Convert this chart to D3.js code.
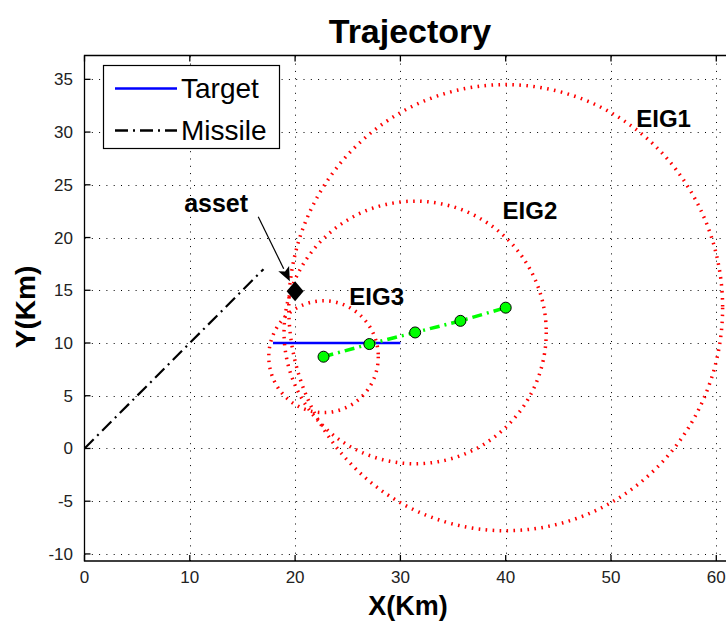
<!DOCTYPE html>
<html><head><meta charset="utf-8">
<script src="https://cdn.jsdelivr.net/npm/d3@7/dist/d3.min.js"></script>
<style>
html,body{margin:0;padding:0;background:#fff;}
svg{display:block;font-family:"Liberation Sans",Arial,Helvetica,sans-serif;}
</style></head>
<body>
<svg id="chart" width="726" height="626"></svg>
<script>
// ---- data ----
const xTicks = [0, 10, 20, 30, 40, 50, 60];
const yTicks = [-10, -5, 0, 5, 10, 15, 20, 25, 30, 35];
const targetX = [17.9, 30.0];
const targetY = [10.0, 10.0];
const missileX = [0, 17.0];
const missileY = [0, 17.0];
const trackX = [22.7, 27.05, 31.4, 35.7, 40.0];
const trackY = [8.7, 9.9, 11.0, 12.1, 13.35];
const eigNames = ["EIG1", "EIG2", "EIG3"];
const eigCx = [40.0, 31.4, 22.7];
const eigCy = [13.35, 11.0, 8.7];
const eigRx = [20.6, 12.45, 5.2];
const eigRy = [21.15, 12.45, 5.3];
const eigLabelX = [52.4, 39.7, 25.15];
const eigLabelY = [30.45, 21.73, 13.56];
const assetX = 20.0, assetY = 14.9;
const assetLabel = {text: "asset", x: 12.5, y: 22.4};
const arrowFrom = [16.5, 21.98];
const arrowTo = [19.5, 15.85];
const legendNames = ["Target", "Missile"];

// ---- layout ----
const svg = d3.select("#chart");
const L = 84.5, T = 55.5, B = 561;
const x = d3.scaleLinear().domain([0, 61]).range([L, L + 61 * 10.53]);
const y = d3.scaleLinear().domain([-10.67, 37.26]).range([B, T]);
const R = x(61);

svg.append("defs").append("clipPath").attr("id", "clip")
  .append("rect").attr("x", L).attr("y", T).attr("width", R - L).attr("height", B - T);

// grid
const grid = svg.append("g").attr("stroke", "#000").attr("stroke-width", 1)
  .attr("stroke-dasharray", "1,6.3");
grid.selectAll(".gx").data(xTicks.filter(d => d > 0)).join("line")
  .attr("x1", d => Math.round(x(d)) + 0.5).attr("x2", d => Math.round(x(d)) + 0.5)
  .attr("y1", B).attr("y2", T);
grid.selectAll(".gy").data(yTicks).join("line")
  .attr("y1", d => Math.round(y(d)) + 0.5).attr("y2", d => Math.round(y(d)) + 0.5)
  .attr("x1", L).attr("x2", R);

const plot = svg.append("g").attr("clip-path", "url(#clip)");

// target
plot.append("line")
  .attr("x1", x(targetX[0])).attr("y1", y(targetY[0]))
  .attr("x2", x(targetX[1])).attr("y2", y(targetY[1]))
  .attr("stroke", "#0000ff").attr("stroke-width", 2.5);

// EIG ellipses
plot.selectAll(".eig").data(eigNames).join("ellipse")
  .attr("cx", (d, i) => x(eigCx[i])).attr("cy", (d, i) => y(eigCy[i]))
  .attr("rx", (d, i) => x(eigCx[i] + eigRx[i]) - x(eigCx[i]))
  .attr("ry", (d, i) => y(eigCy[i]) - y(eigCy[i] + eigRy[i]))
  .attr("fill", "none").attr("stroke", "#ff0000").attr("stroke-width", 3.5)
  .attr("stroke-dasharray", "1.6,5.4");

// missile
plot.append("line")
  .attr("x1", x(missileX[0])).attr("y1", y(missileY[0]))
  .attr("x2", x(missileX[1])).attr("y2", y(missileY[1]))
  .attr("stroke", "#000").attr("stroke-width", 2.2)
  .attr("stroke-dasharray", "13,5,2,5");

// green track
const line = d3.line().x(d => x(d[0])).y(d => y(d[1]));
const trackPts = trackX.map((v, i) => [v, trackY[i]]);
plot.append("path").datum(trackPts).attr("d", line)
  .attr("fill", "none").attr("stroke", "#00ff00").attr("stroke-width", 3.5)
  .attr("stroke-dasharray", "10,5,2,5");
plot.selectAll(".pt").data(trackPts).join("circle")
  .attr("cx", d => x(d[0])).attr("cy", d => y(d[1])).attr("r", 5.5)
  .attr("fill", "#00ff00").attr("stroke", "#000").attr("stroke-width", 1);

// asset diamond
const ax = x(assetX), ay = y(assetY);
plot.append("path")
  .attr("d", `M${ax},${ay - 10}L${ax + 8.5},${ay}L${ax},${ay + 10}L${ax - 8.5},${ay}Z`)
  .attr("fill", "#000");

// arrow
const x1 = x(arrowFrom[0]), y1 = y(arrowFrom[1]), x2 = x(arrowTo[0]), y2 = y(arrowTo[1]);
const ang = Math.atan2(y2 - y1, x2 - x1);
const hl = 14, hw = 6;
const bx = x2 - hl * Math.cos(ang), by = y2 - hl * Math.sin(ang);
svg.append("line").attr("x1", x1).attr("y1", y1).attr("x2", bx).attr("y2", by)
  .attr("stroke", "#000").attr("stroke-width", 1.2);
svg.append("path")
  .attr("d", `M${x2},${y2}L${bx + hw * Math.sin(ang)},${by - hw * Math.cos(ang)}L${bx + 3 * Math.cos(ang)},${by + 3 * Math.sin(ang)}L${bx - hw * Math.sin(ang)},${by + hw * Math.cos(ang)}Z`)
  .attr("fill", "#000");

// labels
svg.selectAll(".eigl").data(eigNames).join("text")
  .attr("x", (d, i) => x(eigLabelX[i])).attr("y", (d, i) => y(eigLabelY[i]))
  .attr("font-size", 24).attr("font-weight", "bold").text(d => d);
svg.append("text").attr("x", x(assetLabel.x)).attr("y", y(assetLabel.y))
  .attr("text-anchor", "middle").attr("font-size", 25).attr("font-weight", "bold")
  .text(assetLabel.text);

// axes box
svg.append("path").attr("d", `M${R},${T}H${L}V${B}H${R}`)
  .attr("fill", "none").attr("stroke", "#000").attr("stroke-width", 1.3);

// ticks
const tk = svg.append("g").attr("stroke", "#000").attr("stroke-width", 1.3);
tk.selectAll(".tx").data(xTicks).join("line")
  .attr("x1", d => x(d)).attr("x2", d => x(d)).attr("y1", B).attr("y2", B - 6);
tk.selectAll(".tx2").data(xTicks).join("line")
  .attr("x1", d => x(d)).attr("x2", d => x(d)).attr("y1", T).attr("y2", T + 6);
tk.selectAll(".ty").data(yTicks).join("line")
  .attr("y1", d => y(d)).attr("y2", d => y(d)).attr("x1", L).attr("x2", L + 6);

svg.selectAll(".xl").data(xTicks).join("text")
  .attr("x", d => x(d)).attr("y", 583).attr("text-anchor", "middle")
  .attr("font-size", 17).attr("fill", "#222").text(d => d);
svg.selectAll(".yl").data(yTicks).join("text")
  .attr("x", 73).attr("y", d => y(d) + 6).attr("text-anchor", "end")
  .attr("font-size", 17).attr("fill", "#222").text(d => d);

// titles
svg.append("text").attr("x", 410).attr("y", 43).attr("text-anchor", "middle")
  .attr("font-size", 34).attr("font-weight", "bold").text("Trajectory");
svg.append("text").attr("x", 408).attr("y", 615).attr("text-anchor", "middle")
  .attr("font-size", 27).attr("font-weight", "bold").text("X(Km)");
svg.append("text").attr("transform", "translate(35,307) rotate(-90)")
  .attr("text-anchor", "middle").attr("font-size", 28).attr("font-weight", "bold").text("Y(Km)");

// legend
const lg = svg.append("g");
lg.append("rect").attr("x", 103.5).attr("y", 65.5).attr("width", 176).attr("height", 83)
  .attr("fill", "#fff").attr("stroke", "#000").attr("stroke-width", 1.2);
const legStroke = ["#0000ff", "#000"];
const legDash = [null, "13,5,2,5"];
const legY = [88.5, 130.5];
lg.selectAll(".ll").data(legendNames).join("line")
  .attr("x1", 115).attr("x2", 177).attr("y1", (d, i) => legY[i]).attr("y2", (d, i) => legY[i])
  .attr("stroke", (d, i) => legStroke[i]).attr("stroke-width", 2.5)
  .attr("stroke-dasharray", (d, i) => legDash[i]);
lg.selectAll(".lt").data(legendNames).join("text")
  .attr("x", 181).attr("y", (d, i) => legY[i] + 9.5)
  .attr("font-size", 28).text(d => d);
</script>
</body></html>
